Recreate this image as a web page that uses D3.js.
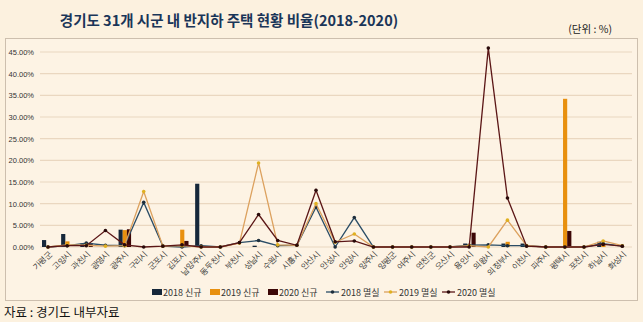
<!DOCTYPE html>
<html><head><meta charset="utf-8">
<script src="https://cdn.jsdelivr.net/npm/d3@7"></script>
<style>
html,body{margin:0;padding:0;background:#fcf1df;}
svg{display:block;font-family:"Noto Sans CJK KR","Noto Sans",sans-serif;}
</style></head><body>
<svg id="c" width="643" height="322"></svg>
<script>
const categories = ["가평군","고양시","과천시","광명시","광주시","구리시","군포시","김포시","남양주시","동두천시","부천시","성남시","수원시","시흥시","안산시","안성시","안양시","양주시","양평군","여주시","연천군","오산시","용인시","의왕시","의정부시","이천시","파주시","평택시","포천시","하남시","화성시"];
const new2018 = [1.6,3.0,0.8,0,4.0,0,0,0,14.6,0,0,0.3,0,0,0,0,0,0,0,0,0,0,0.8,0,0.8,0.8,0,0,0,1.2,0];
const new2019 = [0,1.3,0,0,3.9,0,0,4.0,0,0,0,0,0,0,0,0,0,0,0,0,0,0,0,0,1.2,0,0,34.2,0,0.6,0];
const new2020 = [0,0,0.9,0,4.1,0,0,1.4,0,0,0,0,0,0,0,0,0,0,0,0,0,0,3.3,0,0,0,0,3.7,0,0,0];
const loss2018 = [0,0.3,0.9,0.4,0.3,10.3,0.2,0,0.3,0,1.0,1.5,0.3,0.4,9.2,0,6.8,0,0,0,0,0,0.4,0.5,0.3,0.3,0,0,0,0.8,0.2];
const loss2019 = [0,0.5,0.4,0.2,0.3,12.8,0.2,0.3,0,0,0.9,19.4,0.5,0.4,10.0,1.1,3.0,0,0,0,0,0,0.3,0,6.2,0.3,0,0,0,1.4,0.3];
const loss2020 = [0,0.3,0.3,3.8,0.5,0,0.2,0.5,0,0,1.0,7.5,1.5,0.4,13.1,1.2,1.4,0,0,0,0,0,0,45.9,11.3,0.2,0,0,0,0.6,0.2];
const yTicks = [0,5,10,15,20,25,30,35,40,45];
const barSeries = [
  {name:"2018 신규", values:new2018, color:"#16273a"},
  {name:"2019 신규", values:new2019, color:"#e8900f"},
  {name:"2020 신규", values:new2020, color:"#3c0707"}
];
const lineSeries = [
  {name:"2018 멸실", values:loss2018, color:"#2b4d66", mk:"#1e2e3c"},
  {name:"2019 멸실", values:loss2019, color:"#dca15e", mk:"#e0b020"},
  {name:"2020 멸실", values:loss2020, color:"#5b1616", mk:"#2a0a0a"}
];

const svg = d3.select("#c");
svg.append("rect").attr("x",5.5).attr("y",38.5).attr("width",632).attr("height",262)
  .attr("fill","#fdf3e4").attr("stroke","#cdbfae").attr("stroke-width",1);

svg.append("text").attr("x",229).attr("y",26).attr("text-anchor","middle")
  .attr("font-size",14.5).attr("font-weight",700).attr("fill","#1a3558")
  .text("경기도 31개 시군 내 반지하 주택 현황 비율(2018-2020)");
svg.append("text").attr("x",612).attr("y",33).attr("text-anchor","end")
  .attr("font-size",10.5).attr("fill","#222").text("(단위 : %)");

const x = d3.scalePoint().domain(categories).range([48,622.3]);
const y = d3.scaleLinear().domain([0,45]).range([247,52]);
const xb = d3.scaleBand().domain(barSeries.map(d=>d.name)).range([-6,6.5]).paddingInner(0);

svg.append("g").selectAll("line").data(yTicks).join("line")
  .attr("x1",40).attr("x2",632).attr("y1",d=>y(d)).attr("y2",d=>y(d))
  .attr("stroke","#ead7c0").attr("stroke-width",1.2);

const yAxis = d3.axisLeft(y).tickValues(yTicks).tickSize(0).tickPadding(4)
  .tickFormat(d=>d.toFixed(2)+"%");
const gy = svg.append("g").attr("transform","translate(38,0)").call(yAxis);
gy.select(".domain").remove();
gy.selectAll("text").attr("font-size",7.5).attr("fill","#333").attr("font-family","'Liberation Sans',sans-serif");

const xAxis = d3.axisBottom(x).tickSize(0).tickPadding(0);
const gx = svg.append("g").attr("transform","translate(0,254)").call(xAxis);
gx.select(".domain").remove();
gx.selectAll("text").attr("font-size",8).attr("fill","#333")
  .attr("letter-spacing","-0.6").attr("text-anchor","end")
  .attr("dy","0.35em").attr("y",0).attr("x",2)
  .attr("transform","rotate(-45)");

barSeries.forEach(s=>{
  svg.append("g").selectAll("rect").data(s.values.map((v,i)=>({v,c:categories[i]})).filter(d=>d.v>0)).join("rect")
    .attr("x",d=>x(d.c)+xb(s.name)).attr("width",xb.bandwidth())
    .attr("y",d=>y(d.v)).attr("height",d=>y(0)-y(d.v))
    .attr("fill",s.color);
});

const line = d3.line().x((d,i)=>x(categories[i])).y(d=>y(d));
lineSeries.forEach(s=>{
  svg.append("path").datum(s.values).attr("d",line)
    .attr("fill","none").attr("stroke",s.color).attr("stroke-width",1.3);
  svg.append("g").selectAll("circle").data(s.values).join("circle")
    .attr("cx",(d,i)=>x(categories[i])).attr("cy",d=>y(d)).attr("r",1.8)
    .attr("fill",s.mk);
});

const lg = svg.append("g").attr("transform","translate(152,292)");
let lx = 0;
const fs = 9;
barSeries.forEach(s=>{
  lg.append("rect").attr("x",lx).attr("y",-3).attr("width",10).attr("height",6).attr("fill",s.color);
  lg.append("text").attr("x",lx+11).attr("y",3.5).attr("font-size",fs).attr("fill","#333").text(s.name);
  lx += 58;
});
lineSeries.forEach(s=>{
  lg.append("line").attr("x1",lx).attr("x2",lx+13).attr("y1",0).attr("y2",0).attr("stroke",s.color).attr("stroke-width",1.3);
  lg.append("circle").attr("cx",lx+6.5).attr("cy",0).attr("r",1.8).attr("fill",s.mk);
  lg.append("text").attr("x",lx+15).attr("y",3.5).attr("font-size",fs).attr("fill","#333").text(s.name);
  lx += 58;
});

svg.append("text").attr("x",4).attr("y",317).attr("font-size",12.5).attr("fill","#111")
  .text("자료 : 경기도 내부자료");
</script>
</body></html>
